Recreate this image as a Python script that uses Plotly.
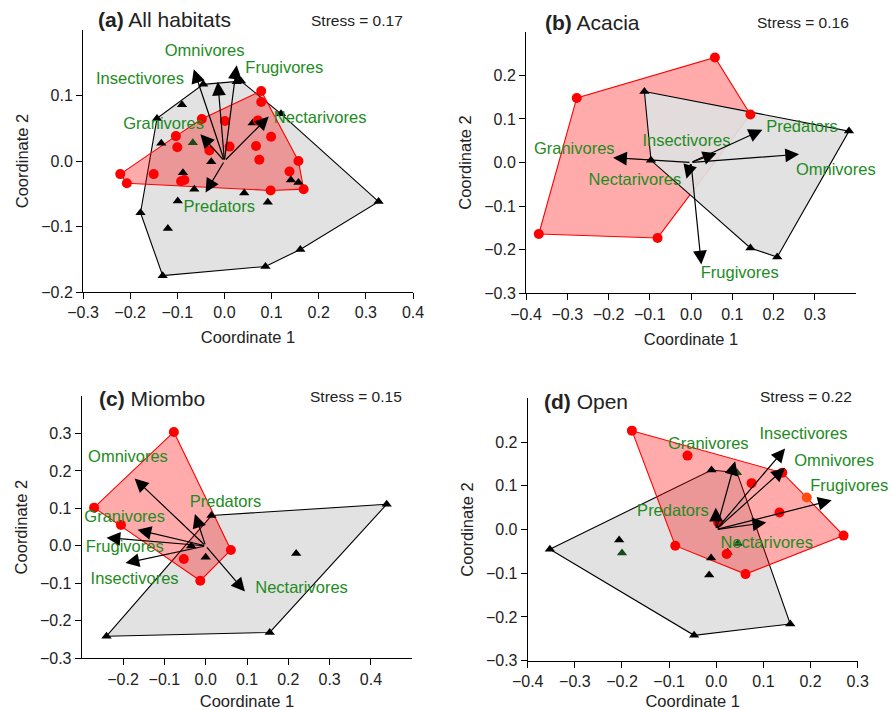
import plotly.graph_objects as go

W, H = 893, 710
FONT = "Arial, Liberation Sans, Helvetica, sans-serif"
GREEN = "#1e8b1e"
RED_FILL = "rgba(255,0,0,0.33)"
GREY_FILL = "rgba(224,224,224,0.92)"

# ---------------- data: (a) All habitats ----------------
a_tri_x = [-0.143, -0.090, -0.045, 0.026, 0.035, 0.120, 0.060, -0.134, -0.028, -0.088, -0.064,
           0.042, -0.099, 0.092, 0.141, 0.157, 0.327, 0.161, 0.087, -0.131, -0.178, -0.120]
a_tri_y = [0.065, 0.086, 0.117, 0.121, 0.122, 0.072, 0.058, 0.027, -0.001, -0.018, -0.043,
           -0.049, -0.061, -0.063, -0.029, -0.033, -0.062, -0.135, -0.161, -0.175, -0.079, -0.103]
a_tri2_x = [-0.067]
a_tri2_y = [0.028]
a_dot_x = [-0.221, -0.207, -0.150, -0.103, -0.100, -0.048, -0.032, 0.001, 0.011, -0.092, -0.085,
           0.078, 0.078, 0.071, 0.099, 0.067, 0.074, 0.157, 0.138, 0.168, 0.098]
a_dot_y = [-0.020, -0.034, -0.020, 0.038, 0.021, 0.064, 0.016, 0.061, 0.022, -0.031, -0.029,
           0.107, 0.090, 0.062, 0.037, 0.023, 0.002, 0.000, -0.016, -0.043, -0.045]
a_vec_names = ["Omnivores", "Insectivores", "Frugivores", "Nectarivores", "Granivores", "Predators"]
a_vec_x = [-0.014, -0.065, 0.026, 0.094, -0.051, -0.040]
a_vec_y = [0.121, 0.140, 0.146, 0.068, 0.041, -0.048]
a_lab_x = [-0.042, -0.179, 0.127, 0.203, -0.129, -0.011]
a_lab_y = [0.166, 0.124, 0.140, 0.065, 0.055, -0.072]

# ---------------- data: (b) Acacia ----------------
b_tri_x = [-0.113, 0.383, 0.209, 0.144, -0.097]
b_tri_y = [0.163, 0.072, -0.217, -0.196, 0.005]
b_dot_x = [-0.277, 0.058, 0.144, -0.081, -0.369]
b_dot_y = [0.148, 0.241, 0.110, -0.173, -0.164]
b_vec_names = ["Granivores", "Insectivores", "Predators", "Omnivores", "Nectarivores", "Frugivores"]
b_vec_x = [-0.189, 0.062, 0.173, 0.262, -0.011, 0.025]
b_vec_y = [0.011, 0.021, 0.075, 0.019, -0.037, -0.234]
b_lab_x = [-0.283, -0.011, 0.269, 0.351, -0.136, 0.118]
b_lab_y = [0.030, 0.047, 0.079, -0.019, -0.042, -0.256]

# ---------------- data: (c) Miombo ----------------
c_tri_x = [-0.240, 0.155, 0.438, 0.014, 0.219, 0.000, -0.035]
c_tri_y = [-0.241, -0.231, 0.111, 0.081, -0.020, -0.030, 0.000]
c_dot_x = [-0.270, -0.205, -0.077, 0.061, -0.013, -0.053]
c_dot_y = [0.102, 0.056, 0.304, -0.011, -0.093, -0.035]
c_vec_names = ["Omnivores", "Predators", "Granivores", "Frugivores", "Insectivores", "Nectarivores"]
c_vec_x = [-0.172, -0.026, -0.165, -0.240, -0.194, 0.095]
c_vec_y = [0.180, 0.085, 0.043, 0.022, -0.046, -0.122]
c_lab_x = [-0.188, 0.048, -0.196, -0.196, -0.172, 0.232]
c_lab_y = [0.236, 0.116, 0.076, -0.006, -0.091, -0.115]

# ---------------- data: (d) Open ----------------
d_tri_x = [-0.353, -0.206, -0.010, -0.011, -0.015, -0.047, 0.157, 0.024]
d_tri_y = [-0.045, -0.024, 0.136, -0.065, -0.104, -0.242, -0.216, -0.052]
d_tri2_x = [-0.200, 0.044, 0.046]
d_tri2_y = [-0.054, 0.130, -0.032]
d_dot_x = [-0.179, -0.061, 0.075, 0.140, 0.134, 0.270, 0.062, -0.087, 0.022, 0.004]
d_dot_y = [0.226, 0.169, 0.106, 0.130, 0.039, -0.014, -0.102, -0.037, -0.056, 0.016]
d_dot2_x = [0.192]
d_dot2_y = [0.073]
d_vec_names = ["Granivores", "Insectivores", "Omnivores", "Frugivores", "Nectarivores", "Predators"]
d_vec_x = [0.040, 0.146, 0.146, 0.245, 0.106, -0.001]
d_vec_y = [0.156, 0.185, 0.141, 0.067, 0.016, 0.050]
d_lab_x = [-0.017, 0.185, 0.250, 0.282, 0.107, -0.092]
d_lab_y = [0.193, 0.217, 0.154, 0.097, -0.032, 0.040]

# tick labels
a_xticks = [-0.3, -0.2, -0.1, 0.0, 0.1, 0.2, 0.3, 0.4]
a_yticks = [-0.2, -0.1, 0.0, 0.1]
b_xticks = [-0.4, -0.3, -0.2, -0.1, 0.0, 0.1, 0.2, 0.3]
b_yticks = [-0.3, -0.2, -0.1, 0.0, 0.1, 0.2]
c_xticks = [-0.2, -0.1, 0.0, 0.1, 0.2, 0.3, 0.4]
c_yticks = [-0.3, -0.2, -0.1, 0.0, 0.1, 0.2, 0.3]
d_xticks = [-0.4, -0.3, -0.2, -0.1, 0.0, 0.1, 0.2, 0.3]
d_yticks = [-0.3, -0.2, -0.1, 0.0, 0.1, 0.2]

titles = ["<b>(a)</b> All habitats", "<b>(b)</b> Acacia", "<b>(c)</b> Miombo", "<b>(d)</b> Open"]
stresses = ["Stress = 0.17", "Stress = 0.16", "Stress = 0.15", "Stress = 0.22"]


def hull(xs, ys):
    pts = sorted(set(zip(xs, ys)))
    if len(pts) < 3:
        return pts

    def cross(o, a, b):
        return (a[0] - o[0]) * (b[1] - o[1]) - (a[1] - o[1]) * (b[0] - o[0])

    lower, upper = [], []
    for p in pts:
        while len(lower) >= 2 and cross(lower[-2], lower[-1], p) <= 0:
            lower.pop()
        lower.append(p)
    for p in reversed(pts):
        while len(upper) >= 2 and cross(upper[-2], upper[-1], p) <= 0:
            upper.pop()
        upper.append(p)
    h = lower[:-1] + upper[:-1]
    return h + [h[0]]


panels = [
    dict(tri=(a_tri_x + a_tri2_x, a_tri_y + a_tri2_y), tri2=(a_tri2_x, a_tri2_y),
         dot=(a_dot_x, a_dot_y), dot2=([], []),
         vec=(a_vec_names, a_vec_x, a_vec_y, a_lab_x, a_lab_y),
         xr=[-0.3, 0.4], yr=[-0.2, 0.2], xt=a_xticks, yt=a_yticks,
         px=(83, 413), py=(30, 292), grey_on_top=False,
         title_px=(96, 20), stress_px=(405, 21)),
    dict(tri=(b_tri_x, b_tri_y), tri2=([], []),
         dot=(b_dot_x, b_dot_y), dot2=([], []),
         vec=(b_vec_names, b_vec_x, b_vec_y, b_lab_x, b_lab_y),
         xr=[-0.4, 0.4], yr=[-0.3, 0.3], xt=b_xticks, yt=b_yticks,
         px=(526, 856), py=(31.7, 293.3), grey_on_top=True,
         title_px=(543, 23), stress_px=(851, 23)),
    dict(tri=(c_tri_x, c_tri_y), tri2=([], []),
         dot=(c_dot_x, c_dot_y), dot2=([], []),
         vec=(c_vec_names, c_vec_x, c_vec_y, c_lab_x, c_lab_y),
         xr=[-0.3, 0.5], yr=[-0.3, 0.4], xt=c_xticks, yt=c_yticks,
         px=(81.7, 412.3), py=(396, 658.3), grey_on_top=False,
         title_px=(97, 398), stress_px=(404, 396)),
    dict(tri=(d_tri_x + d_tri2_x, d_tri_y + d_tri2_y), tri2=(d_tri2_x, d_tri2_y),
         dot=(d_dot_x + d_dot2_x, d_dot_y + d_dot2_y), dot2=(d_dot2_x, d_dot2_y),
         vec=(d_vec_names, d_vec_x, d_vec_y, d_lab_x, d_lab_y),
         xr=[-0.4, 0.3], yr=[-0.3, 0.3], xt=d_xticks, yt=d_yticks,
         px=(527.7, 857.7), py=(398.3, 660.7), grey_on_top=False,
         title_px=(542, 401), stress_px=(854, 396)),
]

fig = go.Figure()
annotations = []
layout = {}

for i, p in enumerate(panels, start=1):
    xa = "x" if i == 1 else f"x{i}"
    ya = "y" if i == 1 else f"y{i}"

    gx, gy = zip(*hull(*p["tri"]))
    rx, ry = zip(*hull(*p["dot"]))
    grey = go.Scatter(x=gx, y=gy, mode="lines", fill="toself", fillcolor=GREY_FILL,
                      line=dict(color="black", width=1.1), xaxis=xa, yaxis=ya,
                      hoverinfo="skip", showlegend=False)
    red = go.Scatter(x=rx, y=ry, mode="lines", fill="toself", fillcolor=RED_FILL,
                     line=dict(color="red", width=1.1), xaxis=xa, yaxis=ya,
                     hoverinfo="skip", showlegend=False)
    if p["grey_on_top"]:
        fig.add_trace(red)
        fig.add_trace(grey)
    else:
        fig.add_trace(grey)
        fig.add_trace(red)

    tx, ty = p["tri"]
    t2x, t2y = p["tri2"]
    n_main = len(tx) - len(t2x)
    fig.add_trace(go.Scatter(x=tx[:n_main], y=ty[:n_main], mode="markers",
                             marker=dict(symbol="triangle-up", size=9, color="black"),
                             xaxis=xa, yaxis=ya, showlegend=False))
    if t2x:
        fig.add_trace(go.Scatter(x=t2x, y=t2y, mode="markers",
                                 marker=dict(symbol="triangle-up", size=9, color="#1a4a1a"),
                                 xaxis=xa, yaxis=ya, showlegend=False))
    dx, dy = p["dot"]
    d2x, d2y = p["dot2"]
    n_main = len(dx) - len(d2x)
    fig.add_trace(go.Scatter(x=dx[:n_main], y=dy[:n_main], mode="markers",
                             marker=dict(symbol="circle", size=10, color="#ff0000"),
                             xaxis=xa, yaxis=ya, showlegend=False))
    if d2x:
        fig.add_trace(go.Scatter(x=d2x, y=d2y, mode="markers",
                                 marker=dict(symbol="circle", size=10, color="#ff4a10"),
                                 xaxis=xa, yaxis=ya, showlegend=False))

    names, vx, vy, lx, ly = p["vec"]
    fig.add_trace(go.Scatter(x=lx, y=ly, mode="text", text=names,
                             textfont=dict(family=FONT, size=16.5, color=GREEN),
                             textposition="middle center", cliponaxis=False,
                             xaxis=xa, yaxis=ya, showlegend=False, hoverinfo="skip"))
    for xv, yv in zip(vx, vy):
        annotations.append(dict(x=xv, y=yv, ax=0, ay=0, xref=xa, yref=ya,
                                axref=xa, ayref=ya, text="", showarrow=True,
                                arrowhead=2, arrowsize=2.3, arrowwidth=1.2,
                                arrowcolor="black"))

    x0, x1 = p["px"]
    y0, y1 = p["py"]
    axis_common = dict(showline=True, linecolor="black", linewidth=1, ticks="outside",
                       ticklen=6, tickwidth=1, tickcolor="black", showgrid=False,
                       zeroline=False, tickformat=".1f", automargin=False,
                       tickfont=dict(family=FONT, size=16, color="#222"))
    layout["xaxis" if i == 1 else f"xaxis{i}"] = dict(
        axis_common, domain=[x0 / W, x1 / W], range=p["xr"], tickvals=p["xt"],
        anchor=ya, title=dict(text="Coordinate 1", standoff=11,
                              font=dict(family=FONT, size=16.5, color="#222")))
    layout["yaxis" if i == 1 else f"yaxis{i}"] = dict(
        axis_common, domain=[1 - y1 / H, 1 - y0 / H], range=p["yr"], tickvals=p["yt"],
        anchor=xa, title=dict(text="Coordinate 2", standoff=8,
                              font=dict(family=FONT, size=16.5, color="#222")))

    tx_, ty_ = p["title_px"]
    annotations.append(dict(x=tx_ / W, y=1 - ty_ / H, xref="paper", yref="paper",
                            text=titles[i - 1], showarrow=False, xanchor="left",
                            yanchor="middle", font=dict(family=FONT, size=21, color="#222")))
    sx, sy = p["stress_px"]
    annotations.append(dict(x=sx / W, y=1 - sy / H, xref="paper", yref="paper",
                            text=stresses[i - 1], showarrow=False, xanchor="right",
                            yanchor="middle", font=dict(family=FONT, size=15.5, color="#222")))

fig.update_layout(width=W, height=H, autosize=False,
                  margin=dict(l=0, r=0, t=0, b=0, autoexpand=False),
                  paper_bgcolor="white", plot_bgcolor="white",
                  annotations=annotations, showlegend=False, **layout)

fig.write_html("out.html", config={"displayModeBar": False},
               post_script="document.body.style.margin='0';document.body.style.overflow='hidden';")
